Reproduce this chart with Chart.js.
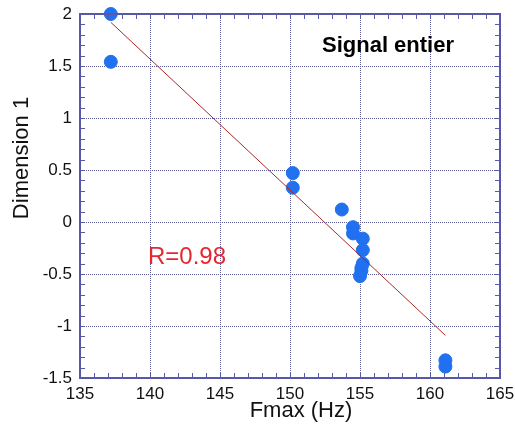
<!DOCTYPE html>
<html>
<head>
<meta charset="utf-8">
<script src="https://cdn.jsdelivr.net/npm/chart.js@4.4.0/dist/chart.umd.min.js"></script>
<style>
  html, body { margin: 0; padding: 0; background: #fff; }
  #wrap { width: 515px; height: 430px; }
</style>
</head>
<body>
<div id="wrap"><canvas id="myChart" width="515" height="430"></canvas></div>
<script>
// measured points
const fmax = [137.2, 137.2, 150.2, 150.2, 153.7, 154.5, 154.5, 155.2, 155.2, 155.2, 155.1, 155.1, 155.0, 161.1, 161.1];
const dim1 = [2.0, 1.54, 0.47, 0.33, 0.12, -0.05, -0.11, -0.16, -0.27, -0.40, -0.44, -0.47, -0.52, -1.33, -1.39];

// regression line end points
const fitX = [137.2, 161.1];
const fitY = [1.92, -1.09];

const xTicks = [135, 140, 145, 150, 155, 160, 165];
const yTicks = [-1.5, -1, -0.5, 0, 0.5, 1, 1.5, 2];

const frameColor = "rgb(88, 88, 170)";
const gridColor = "rgb(90, 90, 150)";

let points = fmax.map(function (x, i) { return { x: x, y: dim1[i] }; });
let fitLine = fitX.map(function (x, i) { return { x: x, y: fitY[i] }; });

// frame, small inner ticks, titles and the two labels
const decorPlugin = {
    id: "decor",
    afterDraw(chart) {
        const ctx = chart.ctx;
        const a = chart.chartArea;
        const xs = chart.scales.x;
        const ys = chart.scales.y;
        ctx.save();
        ctx.strokeStyle = frameColor;
        ctx.lineWidth = 1;
        // minor ticks x every 1
        for (let v = 135; v <= 165; v += 1) {
            const px = Math.round(xs.getPixelForValue(v)) + 0.5;
            ctx.beginPath();
            ctx.moveTo(px, a.bottom); ctx.lineTo(px, a.bottom - 5);
            ctx.moveTo(px, a.top); ctx.lineTo(px, a.top + 5);
            ctx.stroke();
        }
        // minor ticks y every 0.1
        for (let k = -15; k <= 20; k++) {
            const py = Math.round(ys.getPixelForValue(k / 10)) + 0.5;
            ctx.beginPath();
            ctx.moveTo(a.left, py); ctx.lineTo(a.left + 5, py);
            ctx.moveTo(a.right, py); ctx.lineTo(a.right - 5, py);
            ctx.stroke();
        }
        // frame
        ctx.lineWidth = 2;
        ctx.strokeRect(a.left, a.top, a.right - a.left, a.bottom - a.top);

        // axis titles
        ctx.fillStyle = "#111";
        ctx.font = "22px 'Liberation Sans', Arial, sans-serif";
        ctx.textAlign = "center";
        ctx.textBaseline = "middle";
        ctx.fillText("Fmax (Hz)", 301, 411);
        ctx.save();
        ctx.translate(22, 158);
        ctx.rotate(-Math.PI / 2);
        ctx.fillText("Dimension 1", 0, 0);
        ctx.restore();

        // labels inside the plot
        ctx.font = "bold 22px 'Liberation Sans', Arial, sans-serif";
        ctx.fillStyle = "#000";
        ctx.fillText("Signal entier", 388, 46);
        ctx.font = "24px 'Liberation Sans', Arial, sans-serif";
        ctx.fillStyle = "rgb(228, 40, 50)";
        ctx.fillText("R=0.98", 187, 257);
        ctx.restore();
    }
};

let canvas = document.getElementById("myChart");
var myChart = new Chart(canvas, {
    type: "scatter",
    data: {
        datasets: [
            {
                label: "fit",
                type: "line",
                data: fitLine,
                borderColor: "rgb(170, 40, 40)",
                borderWidth: 1,
                pointRadius: 0,
                fill: false,
            },
            {
                label: "Dimension 1",
                data: points,
                backgroundColor: "rgb(32, 112, 240)",
                borderColor: "rgb(32, 112, 240)",
                pointRadius: 6.5,
                pointHoverRadius: 6.5,
                clip: false,
            },
        ],
    },
    options: {
        responsive: false,
        animation: false,
        layout: { padding: { left: 0, right: 15, top: 14, bottom: 0 } },
        plugins: {
            legend: { display: false },
            tooltip: { enabled: false },
        },
        scales: {
            x: {
                type: "linear",
                min: 135,
                max: 165,
                afterBuildTicks: function (scale) {
                    scale.ticks = xTicks.map(function (v) { return { value: v }; });
                },
                afterFit: function (scale) {
                    scale.height = 52;
                    scale.paddingLeft = 0;
                    scale.paddingRight = 0;
                },
                grid: { color: gridColor, lineWidth: 1, drawTicks: false },
                border: { display: false, dash: [1, 1] },
                ticks: {
                    padding: 6,
                    color: "#111",
                    font: { family: "'Liberation Sans', Arial, sans-serif", size: 17 },
                },
            },
            y: {
                type: "linear",
                min: -1.5,
                max: 2,
                afterBuildTicks: function (scale) {
                    scale.ticks = yTicks.map(function (v) { return { value: v }; });
                },
                afterFit: function (scale) {
                    scale.width = 80;
                    scale.paddingTop = 0;
                    scale.paddingBottom = 0;
                },
                grid: { color: gridColor, lineWidth: 1, drawTicks: false },
                border: { display: false, dash: [1, 1] },
                ticks: {
                    padding: 8,
                    color: "#111",
                    font: { family: "'Liberation Sans', Arial, sans-serif", size: 17 },
                    callback: function (v) { return String(v); },
                },
            },
        },
    },
    plugins: [decorPlugin],
});
</script>
</body>
</html>
